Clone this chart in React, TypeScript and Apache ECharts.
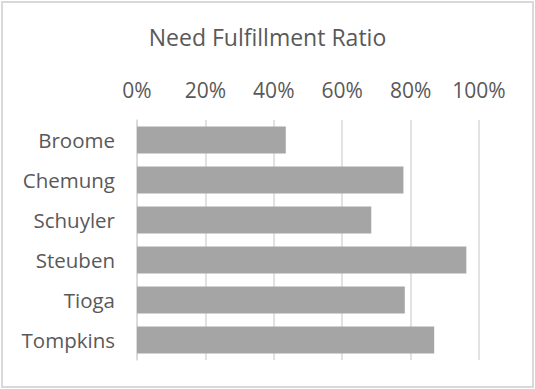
import React, { useEffect, useRef } from "react";
import * as echarts from "echarts";

const categories = ["Broome", "Chemung", "Schuyler", "Steuben", "Tioga", "Tompkins"];
const ratios = [0.435, 0.779, 0.685, 0.963, 0.783, 0.869];
const titleText = "Need Fulfillment Ratio";

export default function App() {
  const ref = useRef<HTMLDivElement>(null);
  useEffect(() => {
    if (!ref.current) return;
    const chart = echarts.init(ref.current, null, { renderer: "svg" });
    chart.setOption({
      animation: false,
      backgroundColor: "#ffffff",
      title: {
        text: titleText,
        left: "center",
        top: 25,
        textStyle: {
          fontFamily: "Open Sans",
          fontSize: 23,
          fontWeight: "normal",
          color: "#595959",
        },
        // center around x=270
        padding: [0, 0, 0, 5],
      },
      graphic: [
        {
          type: "rect",
          shape: { x: 2, y: 2, width: 531, height: 385 },
          style: { fill: "none", stroke: "#d9d9d9", lineWidth: 2 },
          silent: true,
        },
      ],
      grid: { left: 137, right: 56, top: 120, bottom: 29 },
      xAxis: {
        type: "value",
        position: "top",
        min: 0,
        max: 1,
        interval: 0.2,
        axisLine: { show: false },
        axisTick: { show: false },
        splitLine: { show: true, lineStyle: { color: "#d9d9d9", width: 1.5 } },
        axisLabel: {
          margin: 20,
          fontFamily: "Open Sans",
          fontSize: 21,
          color: "#595959",
          formatter: (v: number) => Math.round(v * 100) + "%",
        },
      },
      yAxis: {
        type: "category",
        data: categories,
        inverse: true,
        axisLine: { show: true, lineStyle: { color: "#d9d9d9", width: 1.5 } },
        axisTick: { show: false },
        axisLabel: {
          margin: 22,
          fontFamily: "Open Sans",
          fontSize: 20.5,
          color: "#595959",
        },
      },
      series: [
        {
          type: "bar",
          data: ratios,
          barWidth: 27,
          itemStyle: { color: "#a5a5a5" },
        },
      ],
    });
    return () => chart.dispose();
  }, []);
  return (
    <div
      ref={ref}
      style={{ position: "absolute", left: 0, top: 0, width: 535, height: 389 }}
    />
  );
}
